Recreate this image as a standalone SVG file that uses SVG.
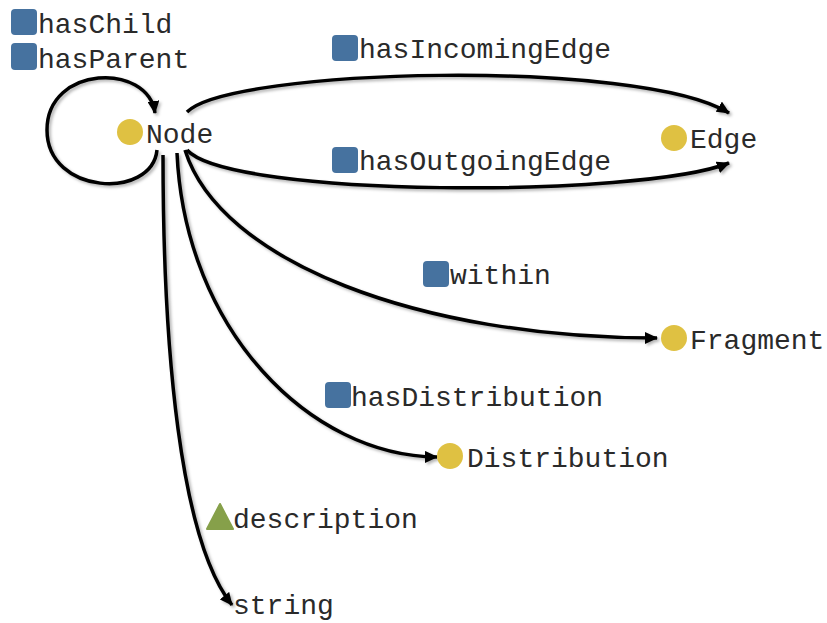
<svg xmlns="http://www.w3.org/2000/svg" width="827" height="623" viewBox="0 0 827 623">
<style>
  .lbl { font-family: "Liberation Mono", "Courier New", monospace; font-size: 28px; fill: #2a2a2a; }
  .prop { fill: #46729f; }
  .cls { fill: #dfc142; }
  .dt { fill: #86a04a; }
  .edge { fill: none; stroke: #000; stroke-width: 3.5; marker-end: url(#arrow); filter: url(#shadow); }
</style>
<defs>
  <marker id="arrow" markerUnits="userSpaceOnUse" markerWidth="13" markerHeight="12" refX="12" refY="6" orient="auto">
    <path d="M0,0 L13,6 L0,12 z" fill="#000"/>
  </marker>
  <filter id="shadow" x="-10%" y="-10%" width="130%" height="130%">
    <feDropShadow dx="2" dy="2" stdDeviation="1.5" flood-color="#000" flood-opacity="0.3"/>
  </filter>
</defs>
<g id="connectors">
  <path id="e-hasChild" class="edge" d="M157,150 C152,200 47,195 47,130 C47,65 148,62 155,113"/>
  <path id="e-hasIncomingEdge" class="edge" d="M187,112 C230,68 640,58 729,113"/>
  <path id="e-hasOutgoingEdge" class="edge" d="M187,150 C230,198 640,198 729,163"/>
  <path id="e-within" class="edge" d="M185,150 C220,262 420,338 657,338"/>
  <path id="e-hasDistribution" class="edge" d="M177,153 C185,330 310,456 437,457"/>
  <path id="e-description" class="edge" d="M163,155 C163,350 180,540 232,605"/>
</g>
<g id="label-hasChild">
  <rect class="prop" x="11" y="9" width="26" height="26" rx="4"/>
  <text class="lbl" x="38" y="33">hasChild</text>
</g>
<g id="label-hasParent">
  <rect class="prop" x="11" y="43" width="26" height="27" rx="4"/>
  <text class="lbl" x="38" y="68">hasParent</text>
</g>
<g id="node-Node">
  <circle class="cls" cx="130" cy="132" r="13"/>
  <text class="lbl" x="146" y="143">Node</text>
</g>
<g id="label-hasIncomingEdge">
  <rect class="prop" x="332" y="35" width="26" height="26" rx="4"/>
  <text class="lbl" x="359" y="58">hasIncomingEdge</text>
</g>
<g id="label-hasOutgoingEdge">
  <rect class="prop" x="332" y="147" width="26" height="26" rx="4"/>
  <text class="lbl" x="359" y="170">hasOutgoingEdge</text>
</g>
<g id="node-Edge">
  <circle class="cls" cx="674" cy="138" r="13"/>
  <text class="lbl" x="690" y="148">Edge</text>
</g>
<g id="label-within">
  <rect class="prop" x="423" y="261" width="26" height="26" rx="4"/>
  <text class="lbl" x="450" y="284">within</text>
</g>
<g id="node-Fragment">
  <circle class="cls" cx="674" cy="338" r="13"/>
  <text class="lbl" x="690" y="349">Fragment</text>
</g>
<g id="label-hasDistribution">
  <rect class="prop" x="325" y="382" width="26" height="26" rx="4"/>
  <text class="lbl" x="351" y="406">hasDistribution</text>
</g>
<g id="node-Distribution">
  <circle class="cls" cx="450" cy="456" r="13"/>
  <text class="lbl" x="467" y="467">Distribution</text>
</g>
<g id="label-description">
  <path class="dt" d="M220,504 L233,529 L207,529 z" stroke="#86a04a" stroke-width="2" stroke-linejoin="round"/>
  <text class="lbl" x="233" y="528">description</text>
</g>
<g id="node-string">
  <text class="lbl" x="233" y="614">string</text>
</g>
</svg>
